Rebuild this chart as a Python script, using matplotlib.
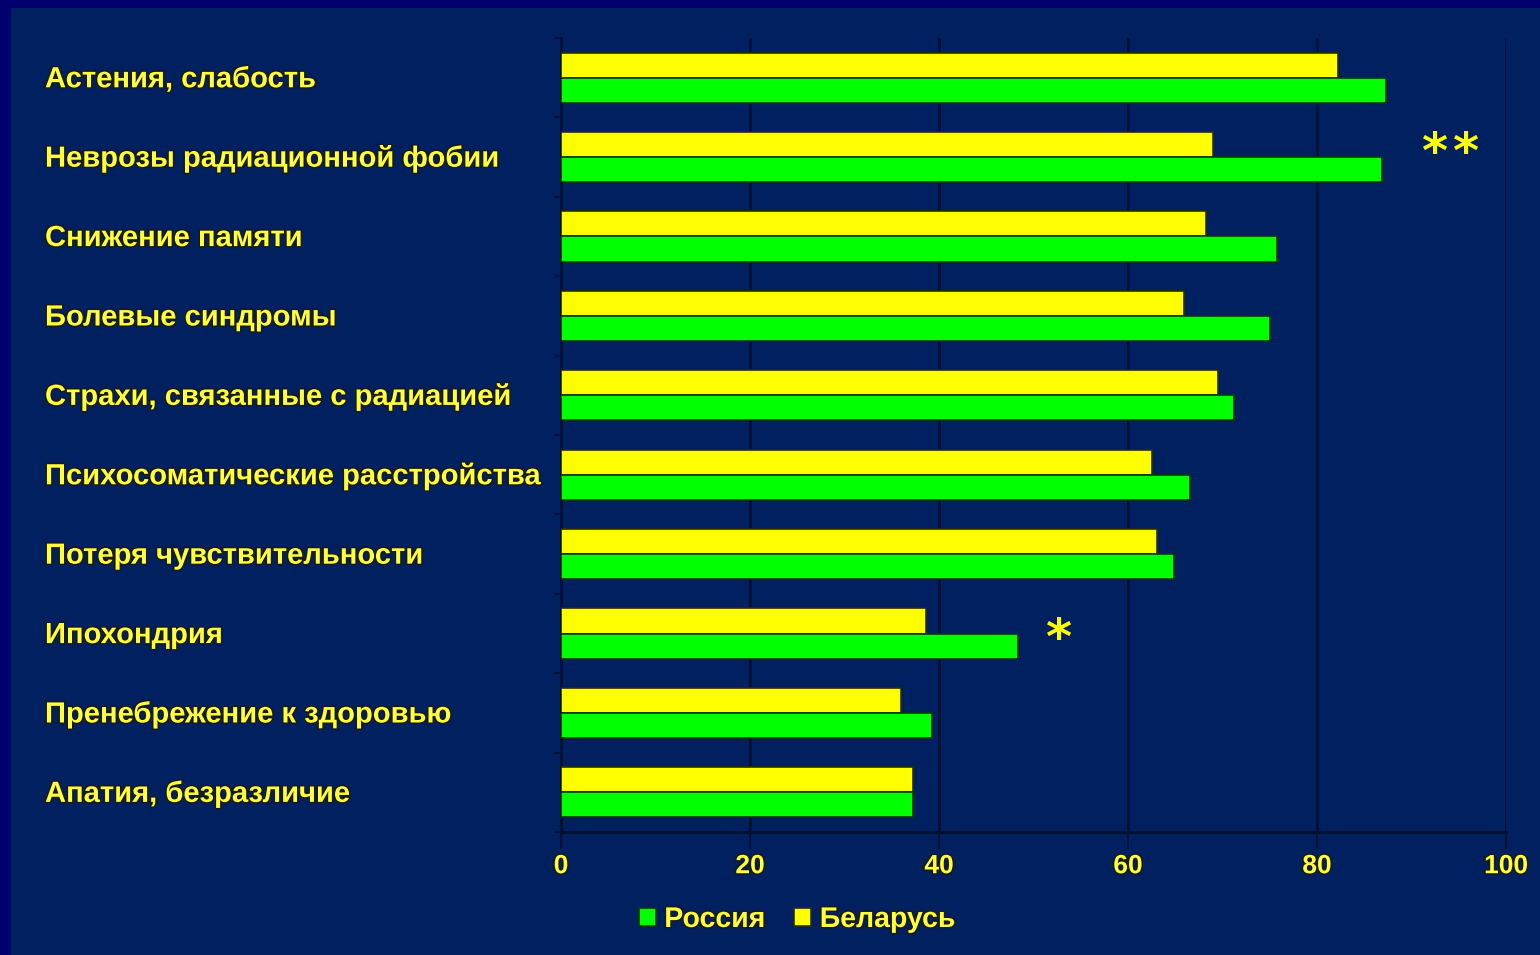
import numpy as np
import matplotlib.pyplot as plt
import matplotlib.patheffects as pe
from matplotlib.patches import Rectangle
from matplotlib import transforms

categories = ["Астения, слабость", "Неврозы радиационной фобии", "Снижение памяти",
              "Болевые синдромы", "Страхи, связанные с радиацией",
              "Психосоматические расстройства", "Потеря чувствительности",
              "Ипохондрия", "Пренебрежение к здоровью", "Апатия, безразличие"]
russia = [87.3, 86.9, 75.8, 75.0, 71.2, 66.6, 64.9, 48.4, 39.3, 37.2]
belarus = [82.2, 69.0, 68.3, 65.9, 69.5, 62.5, 63.1, 38.6, 36.0, 37.2]
xticks = [0, 20, 40, 60, 80, 100]

bg = "#002060"
frame = "#00006e"
txt = "#ffff40"
outline = [pe.withStroke(linewidth=2, foreground="#1a1a10")]

plt.rcParams["font.family"] = ["Liberation Sans", "DejaVu Sans"]
plt.rcParams["font.weight"] = "bold"

fig = plt.figure(figsize=(15.4, 9.55), dpi=100, facecolor=frame)
fig.patches.append(Rectangle((11 / 1540, 0), 1, 1 - 8 / 955, transform=fig.transFigure,
                             facecolor=bg, edgecolor="none", zorder=-10))
ax = fig.add_axes([561 / 1540, 1 - 832 / 955, (1506 - 561) / 1540, (832 - 38) / 955])
ax.set_facecolor(bg)

n = len(categories)
y = np.arange(n)
h = 0.315
ax.barh(y - h / 2, belarus, height=h, color="#ffff00", edgecolor="#2a3000", linewidth=1.2,
        label="Беларусь", zorder=3)
ax.barh(y + h / 2, russia, height=h, color="#00ff00", edgecolor="#0a3a00", linewidth=1.2,
        label="Россия", zorder=3)

ax.set_xlim(0, 100)
ax.set_ylim(n - 0.5, -0.5)
ax.set_xticks(xticks)
ax.set_xticklabels([str(v) for v in xticks], color=txt, fontsize=19, fontweight="bold")
for t in ax.get_xticklabels():
    t.set_path_effects(outline)
ax.tick_params(axis="x", length=12, width=1.5, color="#001030", pad=4)
ax.set_yticks(np.arange(n + 1) - 0.5)
ax.set_yticklabels([])
ax.tick_params(axis="y", length=5, width=1.2, color="#001030")
ax.grid(axis="x", color="#001030", linewidth=2, zorder=1)
for s in ["top", "right"]:
    ax.spines[s].set_visible(False)
ax.spines["left"].set_color("#001030")
ax.spines["left"].set_linewidth(2)
ax.spines["bottom"].set_color("#001030")
ax.spines["bottom"].set_linewidth(2)

tr = transforms.blended_transform_factory(fig.transFigure, ax.transData)
for i, c in enumerate(categories):
    ax.text(45 / 1540, i + 0.02, c, transform=tr, ha="left", va="center", color=txt,
            fontsize=21, fontweight="bold", path_effects=outline)

# significance marks
for xs in (92.4, 95.7):
    ax.text(xs, 0.96, "*", color="#ffff00", fontsize=36, fontweight="bold",
            family="DejaVu Sans", ha="center", va="center")
ax.text(52.6, 7.08, "*", color="#ffff00", fontsize=36, fontweight="bold",
        family="DejaVu Sans", ha="center", va="center")

handles, labels = ax.get_legend_handles_labels()
leg = fig.legend(handles[::-1], labels[::-1], loc="center", bbox_to_anchor=(797 / 1540, 1 - 920 / 955),
                 ncol=2, frameon=False, handlelength=0.6, handleheight=0.6, handletextpad=0.3,
                 columnspacing=1.0, fontsize=20.5)
for t in leg.get_texts():
    t.set_color(txt)
    t.set_fontweight("bold")
    t.set_path_effects(outline)

fig.savefig("out.png", dpi=100, facecolor=frame)
